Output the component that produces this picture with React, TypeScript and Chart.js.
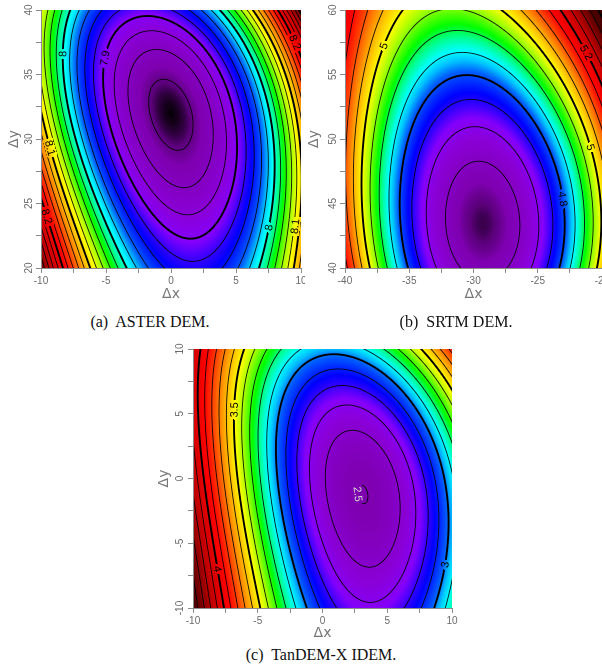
import React, { useEffect, useRef } from 'react';
import { Chart, registerables } from 'chart.js';

Chart.register(...registerables);

// ---------------- Panel (a): ASTER DEM ----------------
const aGridX = [-10, -6, -2, 2, 6, 10];
const aGridY = [40, 36, 32, 28, 24, 20];
const aValues = [
  [8.08, 7.96, 7.906, 7.949, 8.08, 8.31],
  [8.07, 7.93, 7.856, 7.877, 7.99, 8.2],
  [8.095, 7.94, 7.842, 7.842, 7.935, 8.125],
  [8.14, 7.98, 7.865, 7.843, 7.915, 8.09],
  [8.24, 8.035, 7.925, 7.88, 7.94, 8.12],
  [8.3, 8.085, 7.93, 7.935, 8.02, 8.1],
];
const aXRange = [-10, 10];
const aYRange = [20, 40];
const aXTickLabels = [-10, -5, 0, 5, 10];
const aYTickLabels = [20, 25, 30, 35, 40];
const aColourRange = [7.832, 8.32];
const aContours = [7.9, 0.02, 5, 7.85];
const aLabelText = ['7.9', '8', '8.1', '8.2', '8', '8.1', '8.2'];
const aLabelX = [-5.2, -8.3, -9.3, -9.05, 7.23, 9.4, 9.28];
const aLabelY = [36.3, 36.6, 29.3, 24.5, 23.2, 24.0, 36.3];

// ---------------- Panel (b): SRTM DEM ----------------
const bGridX = [-40, -36, -32, -28, -24, -20];
const bGridY = [60, 56, 52, 48, 44, 40];
const bValues = [
  [5.2, 4.99, 4.94, 5.0, 5.22, 5.36],
  [5.16, 4.93, 4.835, 4.84, 5.07, 5.28],
  [5.12, 4.86, 4.74, 4.715, 4.885, 5.1],
  [5.12, 4.84, 4.65, 4.6, 4.785, 5.07],
  [5.12, 4.86, 4.645, 4.585, 4.735, 5.04],
  [5.11, 4.89, 4.715, 4.64, 4.745, 5.02],
];
const bXRange = [-40, -20];
const bYRange = [40, 60];
const bXTickLabels = [-40, -35, -30, -25, -20];
const bYTickLabels = [40, 45, 50, 55, 60];
const bColourRange = [4.605, 5.36];
const bContours = [4.8, 0.05, 4, 4.75];
const bLabelText = ['5', '5.2', '5', '4.8'];
const bLabelX = [-37.5, -21.6, -21.1, -23.4];
const bLabelY = [57.4, 56.5, 49.3, 45.3];

// ---------------- Panel (c): TanDEM-X IDEM ----------------
const cGridX = [-10, -6, -2, 2, 6, 10];
const cGridY = [10, 6, 2, -2, -6, -10];
const cValues = [
  [4.1, 3.48, 3.13, 3.12, 3.3, 3.78],
  [4.05, 3.4, 2.856, 2.742, 3.02, 3.4],
  [4.12, 3.36, 2.744, 2.47, 2.728, 3.25],
  [4.25, 3.46, 2.816, 2.36, 2.52, 3.095],
  [4.35, 3.72, 2.96, 2.6, 2.6, 3.035],
  [4.45, 3.65, 3.05, 2.86, 2.85, 3.12],
];
const cXRange = [-10, 10];
const cYRange = [-10, 10];
const cXTickLabels = [-10, -5, 0, 5, 10];
const cYTickLabels = [-10, -5, 0, 5, 10];
const cColourRange = [2.44, 4.45];
const cContours = [3.0, 0.1, 5, 2.95];
const cLabelText = ['3.5', '4', '3', '2.5'];
const cLabelX = [-6.58, -7.14, 9.67, 2.25];
const cLabelY = [5.29, -6.81, -6.68, -1.27];

// colour map (black - purple - blue - cyan - green - yellow - red - dark red)
const cmapStops = [0, 0.004, 0.013, 0.03, 0.1, 0.145, 0.18, 0.21, 0.27, 0.3, 0.33, 0.37, 0.41, 0.47, 0.52, 0.6, 0.67, 0.73, 0.86, 1];
const cmapColours = ['#000000', '#22002c', '#5c007c', '#7e00b0', '#8a00d8', '#8400fa', '#3400ff', '#0000ff', '#0060ff', '#00c0ff', '#00ffff', '#00ff90', '#00ff00', '#a0ff00', '#ffff00', '#ffa000', '#ff4000', '#ff0000', '#c00000', '#4a0000'];

const captions = ['(a)  ASTER DEM.', '(b)  SRTM DEM.', '(c)  TanDEM-X IDEM.'];

type PanelData = {
  gridX: number[]; gridY: number[]; values: number[][];
  xRange: number[]; yRange: number[]; xTicks: number[]; yTicks: number[];
  colourRange: number[]; contours: number[];
  labelText: string[]; labelX: number[]; labelY: number[];
};

type Layout = { left: number; top: number; w: number; h: number; padTop: number; padRight: number; yW: number; xH: number };

const LUT = (() => {
  const n = 1024;
  const out = new Uint8ClampedArray(n * 3);
  const cols = cmapColours.map((h) => [parseInt(h.slice(1, 3), 16), parseInt(h.slice(3, 5), 16), parseInt(h.slice(5, 7), 16)]);
  for (let k = 0; k < n; k++) {
    const t = k / (n - 1);
    let s = 0;
    while (s < cmapStops.length - 2 && t > cmapStops[s + 1]) s++;
    const u = Math.max(0, Math.min(1, (t - cmapStops[s]) / (cmapStops[s + 1] - cmapStops[s])));
    for (let c = 0; c < 3; c++) out[k * 3 + c] = cols[s][c] + (cols[s + 1][c] - cols[s][c]) * u;
  }
  return out;
})();

// Smooth surface through the read grid: least-squares cubic fit of value^2
function makeSurface(gx: number[], gy: number[], vals: number[][]) {
  const xm = (gx[0] + gx[gx.length - 1]) / 2, xh = Math.abs(gx[gx.length - 1] - gx[0]) / 2;
  const ym = (gy[0] + gy[gy.length - 1]) / 2, yh = Math.abs(gy[gy.length - 1] - gy[0]) / 2;
  const basis = (u: number, v: number) => [1, u, v, u * u, u * v, v * v, u * u * u, u * u * v, u * v * v, v * v * v];
  const n = 10;
  const A: number[][] = Array.from({ length: n }, () => new Array(n + 1).fill(0));
  for (let j = 0; j < gy.length; j++) {
    for (let i = 0; i < gx.length; i++) {
      const b = basis((gx[i] - xm) / xh, (gy[j] - ym) / yh);
      const z = vals[j][i] * vals[j][i];
      for (let r = 0; r < n; r++) {
        for (let c = 0; c < n; c++) A[r][c] += b[r] * b[c];
        A[r][n] += b[r] * z;
      }
    }
  }
  for (let c = 0; c < n; c++) {
    let p = c;
    for (let r = c + 1; r < n; r++) if (Math.abs(A[r][c]) > Math.abs(A[p][c])) p = r;
    [A[c], A[p]] = [A[p], A[c]];
    for (let r = 0; r < n; r++) {
      if (r === c) continue;
      const f = A[r][c] / A[c][c];
      for (let k = c; k <= n; k++) A[r][k] -= f * A[c][k];
    }
  }
  const coef = A.map((row, r) => row[n] / row[r]);
  return (x: number, y: number) => {
    const b = basis((x - xm) / xh, (y - ym) / yh);
    let s = 0;
    for (let k = 0; k < n; k++) s += coef[k] * b[k];
    return Math.sqrt(Math.max(s, 0));
  };
}

function makeFieldPlugin(d: PanelData) {
  const sample = makeSurface(d.gridX, d.gridY, d.values);
  return {
    id: 'contourField',
    beforeDraw(chart: any) {
      const { ctx, chartArea: ca, scales } = chart;
      const xs = scales.x, ys = scales.y;
      const L = Math.round(ca.left), T = Math.round(ca.top);
      const W = Math.round(ca.right) - L, H = Math.round(ca.bottom) - T;
      const [vmin, vmax] = d.colourRange;
      const [base, step, every, boldMin] = d.contours;
      const colX = new Float64Array(W), rowY = new Float64Array(H);
      for (let i = 0; i < W; i++) colX[i] = xs.getValueForPixel(L + i + 0.5);
      for (let j = 0; j < H; j++) rowY[j] = ys.getValueForPixel(T + j + 0.5);
      const F = new Float64Array(W * H);
      for (let j = 0; j < H; j++) for (let i = 0; i < W; i++) F[j * W + i] = sample(colX[i], rowY[j]);
      const valAt = (px: number, py: number) => sample(xs.getValueForPixel(px), ys.getValueForPixel(py));

      ctx.save();
      ctx.font = '11px "Liberation Sans", Arial, sans-serif';
      const boxes: any[] = [];
      d.labelText.forEach((text, k) => {
        const level = parseFloat(text);
        let px = xs.getPixelForValue(d.labelX[k]);
        let py = ys.getPixelForValue(d.labelY[k]);
        let gx = 1, gy = 0;
        for (let it = 0; it < 25; it++) {
          const v = valAt(px, py);
          gx = valAt(px + 0.5, py) - valAt(px - 0.5, py);
          gy = valAt(px, py + 0.5) - valAt(px, py - 0.5);
          const g2 = gx * gx + gy * gy;
          if (g2 < 1e-14) break;
          let sx = -(v - level) * gx / g2, sy = -(v - level) * gy / g2;
          const m = Math.hypot(sx, sy);
          if (m > 4) { sx *= 4 / m; sy *= 4 / m; }
          px = Math.max(ca.left + 6, Math.min(ca.right - 6, px + sx));
          py = Math.max(ca.top + 6, Math.min(ca.bottom - 6, py + sy));
        }
        let ang = Math.atan2(gy, gx) + Math.PI / 2;
        while (ang > Math.PI / 2) ang -= Math.PI;
        while (ang <= -Math.PI / 2) ang += Math.PI;
        const w = ctx.measureText(text).width;
        const t = (valAt(px, py) - vmin) / (vmax - vmin);
        boxes.push({ px, py, ang, hw: w / 2 + 2, hh: 5, text, colour: t < 0.06 ? '#d8d8d8' : '#000' });
      });

      const img = ctx.createImageData(W, H);
      const data = img.data;
      for (let j = 0; j < H; j++) {
        for (let i = 0; i < W; i++) {
          const idx = j * W + i;
          const v = F[idx];
          let t = (v - vmin) / (vmax - vmin);
          t = Math.max(0, Math.min(1, t));
          const li = Math.round(t * 1023) * 3;
          let r = LUT[li], g = LUT[li + 1], b = LUT[li + 2];
          const iL = Math.max(0, i - 1), iR = Math.min(W - 1, i + 1);
          const jU = Math.max(0, j - 1), jD = Math.min(H - 1, j + 1);
          const gxp = (F[j * W + iR] - F[j * W + iL]) / (iR - iL);
          const gyp = (F[jD * W + i] - F[jU * W + i]) / (jD - jU);
          const gm = Math.hypot(gxp, gyp);
          const n = Math.round((v - base) / step);
          const lev = base + n * step;
          const dist = gm > 1e-12 ? Math.abs(v - lev) / gm : 99;
          const bold = ((n % every) + every) % every === 0 && lev > boldMin;
          const hw = bold ? 0.95 : 0.45;
          let cov = Math.max(0, Math.min(1, hw + 0.5 - dist)) * (bold ? 1 : 0.9);
          if (cov > 0) {
            const cx = L + i + 0.5, cy = T + j + 0.5;
            for (const bx of boxes) {
              const dx = cx - bx.px, dy = cy - bx.py;
              const u = dx * Math.cos(bx.ang) + dy * Math.sin(bx.ang);
              const w2 = -dx * Math.sin(bx.ang) + dy * Math.cos(bx.ang);
              if (Math.abs(u) < bx.hw && Math.abs(w2) < bx.hh) { cov = 0; break; }
            }
            r *= 1 - cov; g *= 1 - cov; b *= 1 - cov;
          }
          data[idx * 4] = r; data[idx * 4 + 1] = g; data[idx * 4 + 2] = b; data[idx * 4 + 3] = 255;
        }
      }
      const off = document.createElement('canvas');
      off.width = W; off.height = H;
      off.getContext('2d')!.putImageData(img, 0, 0);
      ctx.drawImage(off, L, T);

      ctx.textAlign = 'center';
      ctx.textBaseline = 'middle';
      for (const bx of boxes) {
        ctx.save();
        ctx.translate(bx.px, bx.py);
        ctx.rotate(bx.ang);
        ctx.fillStyle = bx.colour;
        ctx.fillText(bx.text, 0, 0.5);
        ctx.restore();
      }
      ctx.restore();
    },
  };
}

const axisGrey = '#8c8c8c';
const tickFont = { family: '"Liberation Sans", Arial, sans-serif', size: 10 };
const titleFont = { family: '"DejaVu Sans", "Liberation Sans", sans-serif', size: 14 };

function buildConfig(d: PanelData, lay: Layout): any {
  return {
    type: 'scatter',
    data: { datasets: [{ data: [], pointRadius: 0 }] },
    plugins: [makeFieldPlugin(d)],
    options: {
      animation: false,
      responsive: false,
      devicePixelRatio: 1,
      events: [],
      layout: { padding: { top: lay.padTop, right: lay.padRight, left: 0, bottom: 0 } },
      plugins: { legend: { display: false }, tooltip: { enabled: false } },
      scales: {
        x: {
          type: 'linear',
          position: 'bottom',
          min: d.xRange[0],
          max: d.xRange[1],
          afterFit: (s: any) => { s.height = lay.xH; s.paddingLeft = 0; s.paddingRight = 0; },
          ticks: {
            stepSize: 2.5,
            autoSkip: false,
            maxRotation: 0,
            minRotation: 0,
            padding: 2,
            color: '#6a6a6a',
            font: tickFont,
            callback: (v: number) => (d.xTicks.includes(v) ? String(v) : ''),
          },
          grid: { drawOnChartArea: false, tickLength: 5, color: axisGrey },
          border: { display: true, color: axisGrey },
          title: { display: true, text: 'Δx', color: '#777', font: titleFont, padding: { top: 0, bottom: 2 } },
        },
        y: {
          type: 'linear',
          position: 'left',
          min: d.yRange[0],
          max: d.yRange[1],
          afterFit: (s: any) => { s.width = lay.yW; s.paddingTop = 0; s.paddingBottom = 0; },
          ticks: {
            stepSize: 2.5,
            autoSkip: false,
            minRotation: 90,
            maxRotation: 90,
            crossAlign: 'center',
            padding: 1,
            color: '#6a6a6a',
            font: tickFont,
            callback: (v: number) => (d.yTicks.includes(v) ? String(v) : ''),
          },
          grid: { drawOnChartArea: false, tickLength: 5, color: axisGrey },
          border: { display: true, color: axisGrey },
          title: { display: true, text: 'Δy', color: '#777', font: titleFont, padding: { top: 6, bottom: 0 } },
        },
      },
    },
  };
}

const panelA: PanelData = {
  gridX: aGridX, gridY: aGridY, values: aValues, xRange: aXRange, yRange: aYRange,
  xTicks: aXTickLabels, yTicks: aYTickLabels, colourRange: aColourRange, contours: aContours,
  labelText: aLabelText, labelX: aLabelX, labelY: aLabelY,
};
const panelB: PanelData = {
  gridX: bGridX, gridY: bGridY, values: bValues, xRange: bXRange, yRange: bYRange,
  xTicks: bXTickLabels, yTicks: bYTickLabels, colourRange: bColourRange, contours: bContours,
  labelText: bLabelText, labelX: bLabelX, labelY: bLabelY,
};
const panelC: PanelData = {
  gridX: cGridX, gridY: cGridY, values: cValues, xRange: cXRange, yRange: cYRange,
  xTicks: cXTickLabels, yTicks: cYTickLabels, colourRange: cColourRange, contours: cContours,
  labelText: cLabelText, labelX: cLabelX, labelY: cLabelY,
};

const layA: Layout = { left: 0, top: 0, w: 305, h: 305, padTop: 10, padRight: 4, yW: 41, xH: 37 };
const layB: Layout = { left: 300, top: 0, w: 312, h: 305, padTop: 10, padRight: 10, yW: 45, xH: 37 };
const layC: Layout = { left: 150, top: 339, w: 310, h: 305, padTop: 10, padRight: 8, yW: 43, xH: 36 };

function ContourPanel({ data, lay }: { data: PanelData; lay: Layout }) {
  const ref = useRef<HTMLCanvasElement>(null);
  useEffect(() => {
    const chart = new Chart(ref.current as HTMLCanvasElement, buildConfig(data, lay));
    return () => chart.destroy();
  }, [data, lay]);
  return (
    <canvas
      ref={ref}
      width={lay.w}
      height={lay.h}
      style={{ position: 'absolute', left: lay.left, top: lay.top, width: lay.w, height: lay.h }}
    />
  );
}

const captionStyle: React.CSSProperties = {
  position: 'absolute',
  width: 300,
  textAlign: 'center',
  fontFamily: '"Liberation Serif", "Times New Roman", serif',
  fontSize: 16,
  lineHeight: '20px',
  color: '#111',
  whiteSpace: 'pre',
};

export default function App() {
  return (
    <div style={{ position: 'absolute', left: 0, top: 0, width: 602, height: 672, overflow: 'hidden', background: '#fff' }}>
      <ContourPanel data={panelA} lay={layA} />
      <ContourPanel data={panelB} lay={layB} />
      <ContourPanel data={panelC} lay={layC} />
      <div style={{ ...captionStyle, left: 0, top: 312 }}>{captions[0]}</div>
      <div style={{ ...captionStyle, left: 306, top: 312 }}>{captions[1]}</div>
      <div style={{ ...captionStyle, left: 171, top: 645 }}>{captions[2]}</div>
    </div>
  );
}
